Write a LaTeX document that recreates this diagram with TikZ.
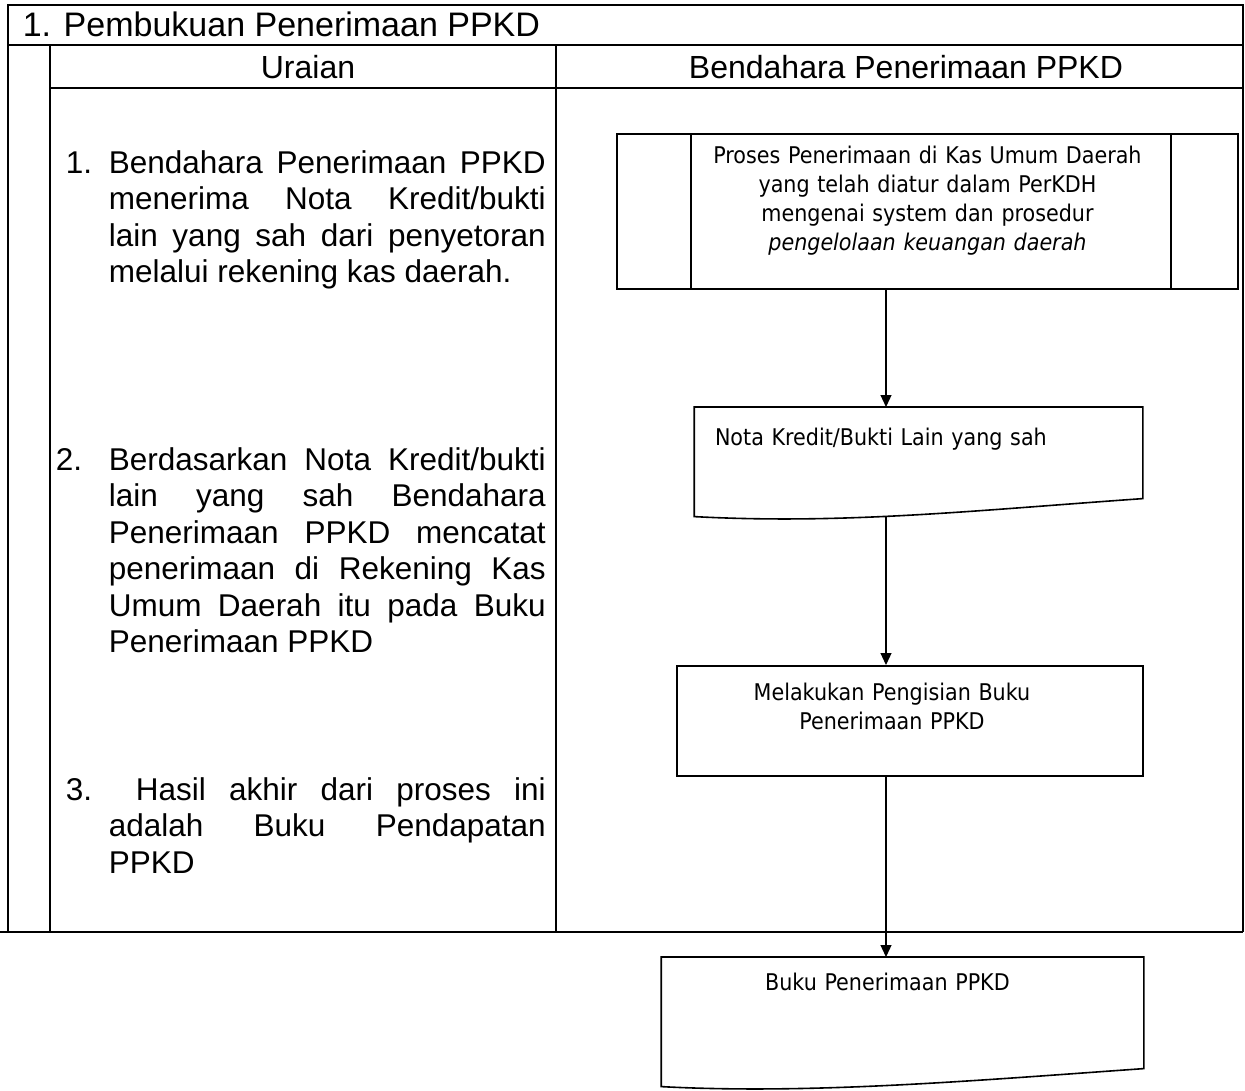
\documentclass[tikz,border=0pt]{standalone}
\usepackage{fontspec}
\setmainfont{Liberation Sans}
\newfontfamily\flowfont{DejaVu Sans Condensed}
\usetikzlibrary{arrows.meta}
\newcommand{\dokbentuk}[1]{\draw[line width=1.6pt] (#1.north west) -- (#1.north east) -- ([yshift=18pt]#1.south east) .. controls +(-170,12) and +(150,8) .. (#1.south west) -- cycle;}

\begin{document}
\begin{tikzpicture}[x=1pt,y=-1pt,line width=1.6pt]
        \tikzstyle{kepala}=[inner sep=0pt,font=\fontsize{32}{38}\selectfont]
        \tikzstyle{uraian}=[anchor=base west,inner sep=0pt,align=justify,font=\fontsize{31.5}{36.5}\selectfont]
        \tikzstyle{proses}=[draw,anchor=north,inner sep=0pt,align=center,font=\flowfont\fontsize{23}{29}\selectfont]
        \tikzstyle{dokumen}=[anchor=north,inner sep=0pt,font=\flowfont\fontsize{23}{29}\selectfont]
        \tikzstyle{alur}=[-{Triangle[length=12pt,width=11pt]},line width=1.2pt]
        \useasboundingbox (0,0) rectangle (1245,1090);
       \begin{scope}
         \draw (8,932) -- (8,5) -- (1243,5) -- (1243,932);
         \draw (8,45) -- (1243,45);
         \draw (50,88) -- (1243,88);
         \draw (50,45) -- (50,932);
         \draw (556,45) -- (556,932);
         \draw (0,932) -- (1243,932);

         \node [kepala,anchor=base west,font=\fontsize{34}{40}\selectfont] (judul) at (22,36) {1. Pembukuan Penerimaan PPKD};
         \node [kepala,anchor=base] (uraian) at (308,78) {Uraian};
         \node [kepala,anchor=base] (bendahara) at (906,78) {Bendahara Penerimaan PPKD};

         \node [uraian,text width=480pt] (u1) at (65,173) {\hangindent=43pt\hangafter=1\makebox[43pt][l]{1.}Bendahara Penerimaan PPKD\linebreak menerima Nota Kredit/bukti\linebreak lain yang sah dari penyetoran\linebreak melalui rekening kas daerah.\par};
         \node [uraian,text width=490pt] (u2) at (55,470) {\hangindent=53pt\hangafter=1\makebox[53pt][l]{2.}Berdasarkan Nota Kredit/bukti\linebreak lain yang sah Bendahara\linebreak Penerimaan PPKD mencatat\linebreak penerimaan di Rekening Kas\linebreak Umum Daerah itu pada Buku\linebreak Penerimaan PPKD\par};
         \node [uraian,text width=480pt] (u3) at (65,800) {\hangindent=43pt\hangafter=1\makebox[70pt][l]{3.}Hasil akhir dari proses ini\linebreak adalah Buku Pendapatan\linebreak PPKD\par};

         \node [proses,minimum width=621pt,text width=470pt,text height=30pt,text depth=125pt] (p1) at (927.5,133) {Proses Penerimaan di Kas Umum Daerah\\ yang telah diatur dalam PerKDH\\ mengenai system dan prosedur\\ \textit{pengelolaan keuangan daerah}};
         \draw ([xshift=75pt]p1.north west) -- ([xshift=75pt]p1.south west);
         \draw ([xshift=-68pt]p1.north east) -- ([xshift=-68pt]p1.south east);
         \node [dokumen,minimum width=447pt,text width=407pt,align=left,text height=38pt,text depth=70pt] (p2) at (918.5,407) {Nota Kredit/Bukti Lain yang sah};
         \dokbentuk{p2}
         \node [proses,minimum width=466pt,text width=430pt,text height=35pt,text depth=75pt] (p3) at (910,665) {Melakukan Pengisian Buku\makebox[36pt]{}\\ Penerimaan PPKD\makebox[36pt]{}};
         \node [dokumen,minimum width=481pt,text width=441pt,align=center,text height=33pt,text depth=95pt] (p4) at (902.5,957) {Buku Penerimaan PPKD\makebox[30pt]{}};
         \dokbentuk{p4}

         \coordinate (ax) at (886,0);
         \draw [alur] (p1.south -| ax) -- (p2.north -| ax);
         \draw [alur] (p2.south -| ax) -- (p3.north -| ax);
         \draw [alur] (p3.south -| ax) -- (p4.north -| ax);
        \end{scope}
\end{tikzpicture}
\end{document}
